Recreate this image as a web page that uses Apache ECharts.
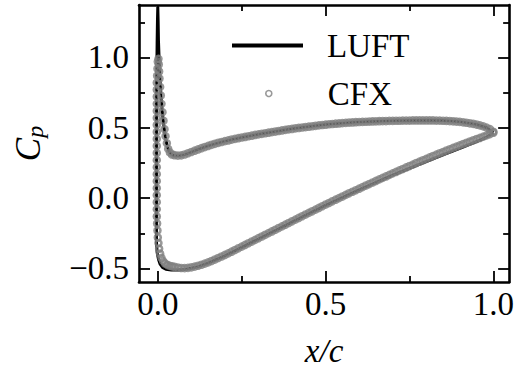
<!DOCTYPE html>
<html>
<head>
<meta charset="utf-8">
<script src="https://cdn.jsdelivr.net/npm/echarts@6/dist/echarts.min.js"></script>
<style>
html,body{margin:0;padding:0;background:#fff;}
#chart{width:517px;height:372px;}
</style>
</head>
<body>
<div id="chart"></div>
<script>
// ---------- data ----------
const xTicks = [0, 0.5, 1.0];
const xMinorTicks = [0.25, 0.75];
const yTicks = [-0.5, 0, 0.5, 1.0];
const yMinorTicks = [-0.25, 0.25, 0.75, 1.25];

// CFX chord stations (x/c) along both surfaces
const cfxX = [0.05,0.06,0.07,0.08,0.09,0.10,0.11,0.12,0.13,0.14,0.15,0.16,0.17,0.18,0.19,0.20,
  0.21,0.22,0.23,0.24,0.25,0.26,0.27,0.28,0.29,0.30,0.31,0.32,0.33,0.34,0.35,0.36,0.37,0.38,0.39,0.40,
  0.41,0.42,0.43,0.44,0.45,0.46,0.47,0.48,0.49,0.50,0.51,0.52,0.53,0.54,0.55,0.56,0.57,0.58,0.59,0.60,
  0.61,0.62,0.63,0.64,0.65,0.66,0.67,0.68,0.69,0.70,0.71,0.72,0.73,0.74,0.75,0.76,0.77,0.78,0.79,0.80,
  0.81,0.82,0.83,0.84,0.85,0.86,0.87,0.88,0.89,0.90,0.91,0.92,0.93,0.94,0.95,0.96,0.97,0.98,0.99,1.00];

// CFX pressure side (positive Cp branch)
const cfxUpperCp = [0.305,0.302,0.304,0.310,0.319,0.328,0.337,0.346,0.355,0.363,0.371,0.379,0.386,0.393,0.399,0.405,
  0.410,0.416,0.421,0.426,0.431,0.435,0.440,0.444,0.449,0.453,0.457,0.461,0.465,0.469,0.473,0.477,0.481,0.485,0.489,0.492,
  0.496,0.499,0.502,0.505,0.508,0.511,0.514,0.517,0.520,0.522,0.525,0.527,0.529,0.531,0.533,0.535,0.537,0.538,0.540,0.541,
  0.542,0.543,0.544,0.545,0.546,0.547,0.548,0.548,0.549,0.549,0.550,0.550,0.551,0.551,0.551,0.552,0.552,0.552,0.552,0.552,
  0.552,0.552,0.551,0.551,0.550,0.549,0.548,0.546,0.544,0.542,0.539,0.536,0.532,0.528,0.523,0.517,0.510,0.501,0.490,0.472];

// CFX suction side (negative Cp branch)
const cfxLowerCp = [-0.488,-0.494,-0.497,-0.498,-0.496,-0.492,-0.487,-0.481,-0.474,-0.466,-0.457,-0.447,-0.437,-0.426,-0.415,-0.404,
  -0.393,-0.381,-0.369,-0.357,-0.345,-0.333,-0.321,-0.309,-0.297,-0.285,-0.273,-0.261,-0.249,-0.237,-0.225,-0.213,-0.201,-0.189,-0.177,-0.165,
  -0.153,-0.141,-0.129,-0.117,-0.105,-0.094,-0.082,-0.070,-0.058,-0.046,-0.035,-0.023,-0.011,0.000,0.011,0.023,0.034,0.045,0.056,0.067,
  0.078,0.089,0.100,0.111,0.122,0.133,0.144,0.154,0.165,0.176,0.186,0.197,0.207,0.218,0.228,0.238,0.249,0.259,0.269,0.279,
  0.289,0.299,0.309,0.319,0.328,0.338,0.347,0.357,0.366,0.375,0.384,0.393,0.402,0.411,0.420,0.428,0.437,0.446,0.455,0.465];

// CFX leading-edge nodes, pressure side
const cfxUpperLeX  = [0.002,0.003,0.004,0.005,0.007,0.009,0.011,0.014,0.017,0.020,0.023,0.027,0.031,0.036,0.042];
const cfxUpperLeCp = [0.99,0.95,0.90,0.85,0.79,0.73,0.67,0.61,0.55,0.49,0.44,0.39,0.35,0.325,0.31];

// CFX leading-edge nodes, suction side
const cfxLowerLeX  = [0.000,-0.001,-0.002,-0.003,-0.003,-0.003,-0.003,-0.003,-0.003,-0.003,-0.003,-0.003,-0.003,-0.003,-0.003,-0.003,
  -0.003,-0.003,-0.003,-0.003,-0.003,-0.003,-0.003,-0.002,-0.001,0.000,0.002,0.004,0.007,0.011,0.016,0.022,0.029,0.036,0.043];
const cfxLowerLeCp = [0.97,0.92,0.87,0.82,0.77,0.72,0.67,0.62,0.57,0.52,0.47,0.42,0.37,0.32,0.27,0.22,
  0.17,0.12,0.07,0.02,-0.03,-0.08,-0.13,-0.18,-0.23,-0.28,-0.32,-0.36,-0.395,-0.425,-0.448,-0.465,-0.476,-0.482,-0.486];

// LUFT solution: trailing edge -> pressure side -> leading edge -> suction side -> trailing edge
const luftX = [1.0,0.98,0.95,0.9,0.85,0.8,0.7,0.6,0.5,0.4,0.3,0.25,0.2,0.15,0.12,0.1,0.08,0.065,0.055,0.045,
  0.038,0.032,0.027,0.022,0.017,0.013,0.009,0.006,0.004,0.002,0.001,0.0,
  -0.001,-0.002,-0.003,-0.004,-0.004,-0.004,-0.004,-0.004,-0.002,0.002,0.007,0.014,0.024,0.04,0.06,0.08,0.1,0.12,
  0.15,0.2,0.3,0.4,0.5,0.6,0.7,0.75,0.8,0.85,0.9,0.95,0.98,1.0];
const luftCp = [0.465,0.50,0.523,0.543,0.551,0.553,0.550,0.542,0.523,0.493,0.454,0.431,0.405,0.371,0.346,0.327,0.309,0.302,0.301,0.305,
  0.318,0.34,0.38,0.44,0.53,0.62,0.74,0.86,0.98,1.12,1.26,1.36,
  1.26,1.10,0.90,0.60,0.30,0.0,-0.2,-0.31,-0.385,-0.435,-0.47,-0.493,-0.506,-0.511,-0.511,-0.507,-0.499,-0.488,
  -0.462,-0.41,-0.291,-0.171,-0.052,0.058,0.164,0.212,0.260,0.307,0.354,0.402,0.434,0.463];

// ---------- build ----------
const luftData = luftX.map((x, i) => [x, luftCp[i]]);
const cfxData = [];
for (let i = cfxUpperLeX.length - 1; i >= 0; i--) cfxData.push([cfxUpperLeX[i], cfxUpperLeCp[i]]);
for (let i = 0; i < cfxLowerLeX.length; i++) cfxData.push([cfxLowerLeX[i], cfxLowerLeCp[i]]);
cfxX.forEach((x, i) => { cfxData.push([x, cfxUpperCp[i]]); cfxData.push([x, cfxLowerCp[i]]); });

const FONT = 'Liberation Serif';
const FS = 33;
const fmt = v => (v < 0 ? '\u2212' : '') + Math.abs(v).toFixed(1);
const XMIN = -0.056, XMAX = 1.047, YMIN = -0.5965, YMAX = 1.373;

function xAx(pos, ticks, len, labels, line) {
  return {
    type: 'value', min: XMIN, max: XMAX, position: pos, gridIndex: 0,
    axisLine: { show: line, onZero: false, lineStyle: { color: '#000', width: 2.6 } },
    axisTick: { show: true, inside: true, length: len, customValues: ticks, lineStyle: { color: '#000', width: 1.8 } },
    axisLabel: labels ? { show: true, customValues: ticks, formatter: fmt, color: '#000', fontFamily: FONT, fontSize: FS, margin: 5 } : { show: false },
    splitLine: { show: false }
  };
}
function yAx(pos, ticks, len, labels, line) {
  return {
    type: 'value', min: YMIN, max: YMAX, position: pos, gridIndex: 0,
    axisLine: { show: line, onZero: false, lineStyle: { color: '#000', width: 2.6 } },
    axisTick: { show: true, inside: true, length: len, customValues: ticks, lineStyle: { color: '#000', width: 1.8 } },
    axisLabel: labels ? { show: true, customValues: ticks, formatter: fmt, color: '#000', fontFamily: FONT, fontSize: FS, margin: 10 } : { show: false },
    splitLine: { show: false }
  };
}

const xAxes = [
  xAx('bottom', xTicks, 11, true, true),
  xAx('bottom', xMinorTicks, 6, false, false),
  xAx('top', xTicks, 11, false, true),
  xAx('top', xMinorTicks, 6, false, false)
];
xAxes[0].name = 'x/c';
xAxes[0].nameLocation = 'middle';
xAxes[0].nameGap = 52;
xAxes[0].nameTextStyle = { fontFamily: FONT, fontSize: FS, fontStyle: 'italic', color: '#000' };

const yAxes = [
  yAx('left', yTicks, 11, true, true),
  yAx('left', yMinorTicks, 6, false, false),
  yAx('right', yTicks, 11, false, true),
  yAx('right', yMinorTicks, 6, false, false)
];
yAxes[0].name = '{c|C}{p|p}';
yAxes[0].nameLocation = 'middle';
yAxes[0].nameRotate = 90;
yAxes[0].nameGap = 92;
yAxes[0].nameTextStyle = {
  color: '#000',
  rich: {
    c: { fontFamily: FONT, fontSize: 35, fontStyle: 'italic', color: '#000' },
    p: { fontFamily: FONT, fontSize: 24, fontStyle: 'italic', color: '#000', padding: [14, 0, 0, 0] }
  }
};

const chart = echarts.init(document.getElementById('chart'), null, { renderer: 'svg', width: 517, height: 372 });
chart.setOption({
  animation: false,
  backgroundColor: '#fff',
  grid: { left: 139, top: 5, width: 374, height: 278, containLabel: false },
  xAxis: xAxes,
  yAxis: yAxes,
  legend: [
    { data: ['LUFT'], left: 232, top: 29, padding: 0, itemWidth: 71, itemHeight: 4, icon: 'rect',
      textStyle: { fontFamily: FONT, fontSize: FS, color: '#000', padding: [0, 0, 0, 19] } },
    { data: ['CFX'], left: 265, top: 77, padding: 0, itemWidth: 6, itemHeight: 6, icon: 'circle',
      itemStyle: { color: 'rgba(255,255,255,0)', borderColor: '#808080', borderWidth: 1.6 },
      textStyle: { fontFamily: FONT, fontSize: FS, color: '#000', padding: [0, 0, 0, 51] } }
  ],
  series: [
    { name: 'LUFT', type: 'line', data: luftData, symbol: 'none', smooth: false,
      lineStyle: { color: '#000', width: 3 }, itemStyle: { color: '#000' }, z: 2 },
    { name: 'CFX', type: 'scatter', data: cfxData, symbol: 'circle', symbolSize: 6,
      itemStyle: { color: 'rgba(255,255,255,0)', borderColor: '#808080', borderWidth: 2.6 }, z: 3 }
  ]
});
</script>
</body>
</html>
